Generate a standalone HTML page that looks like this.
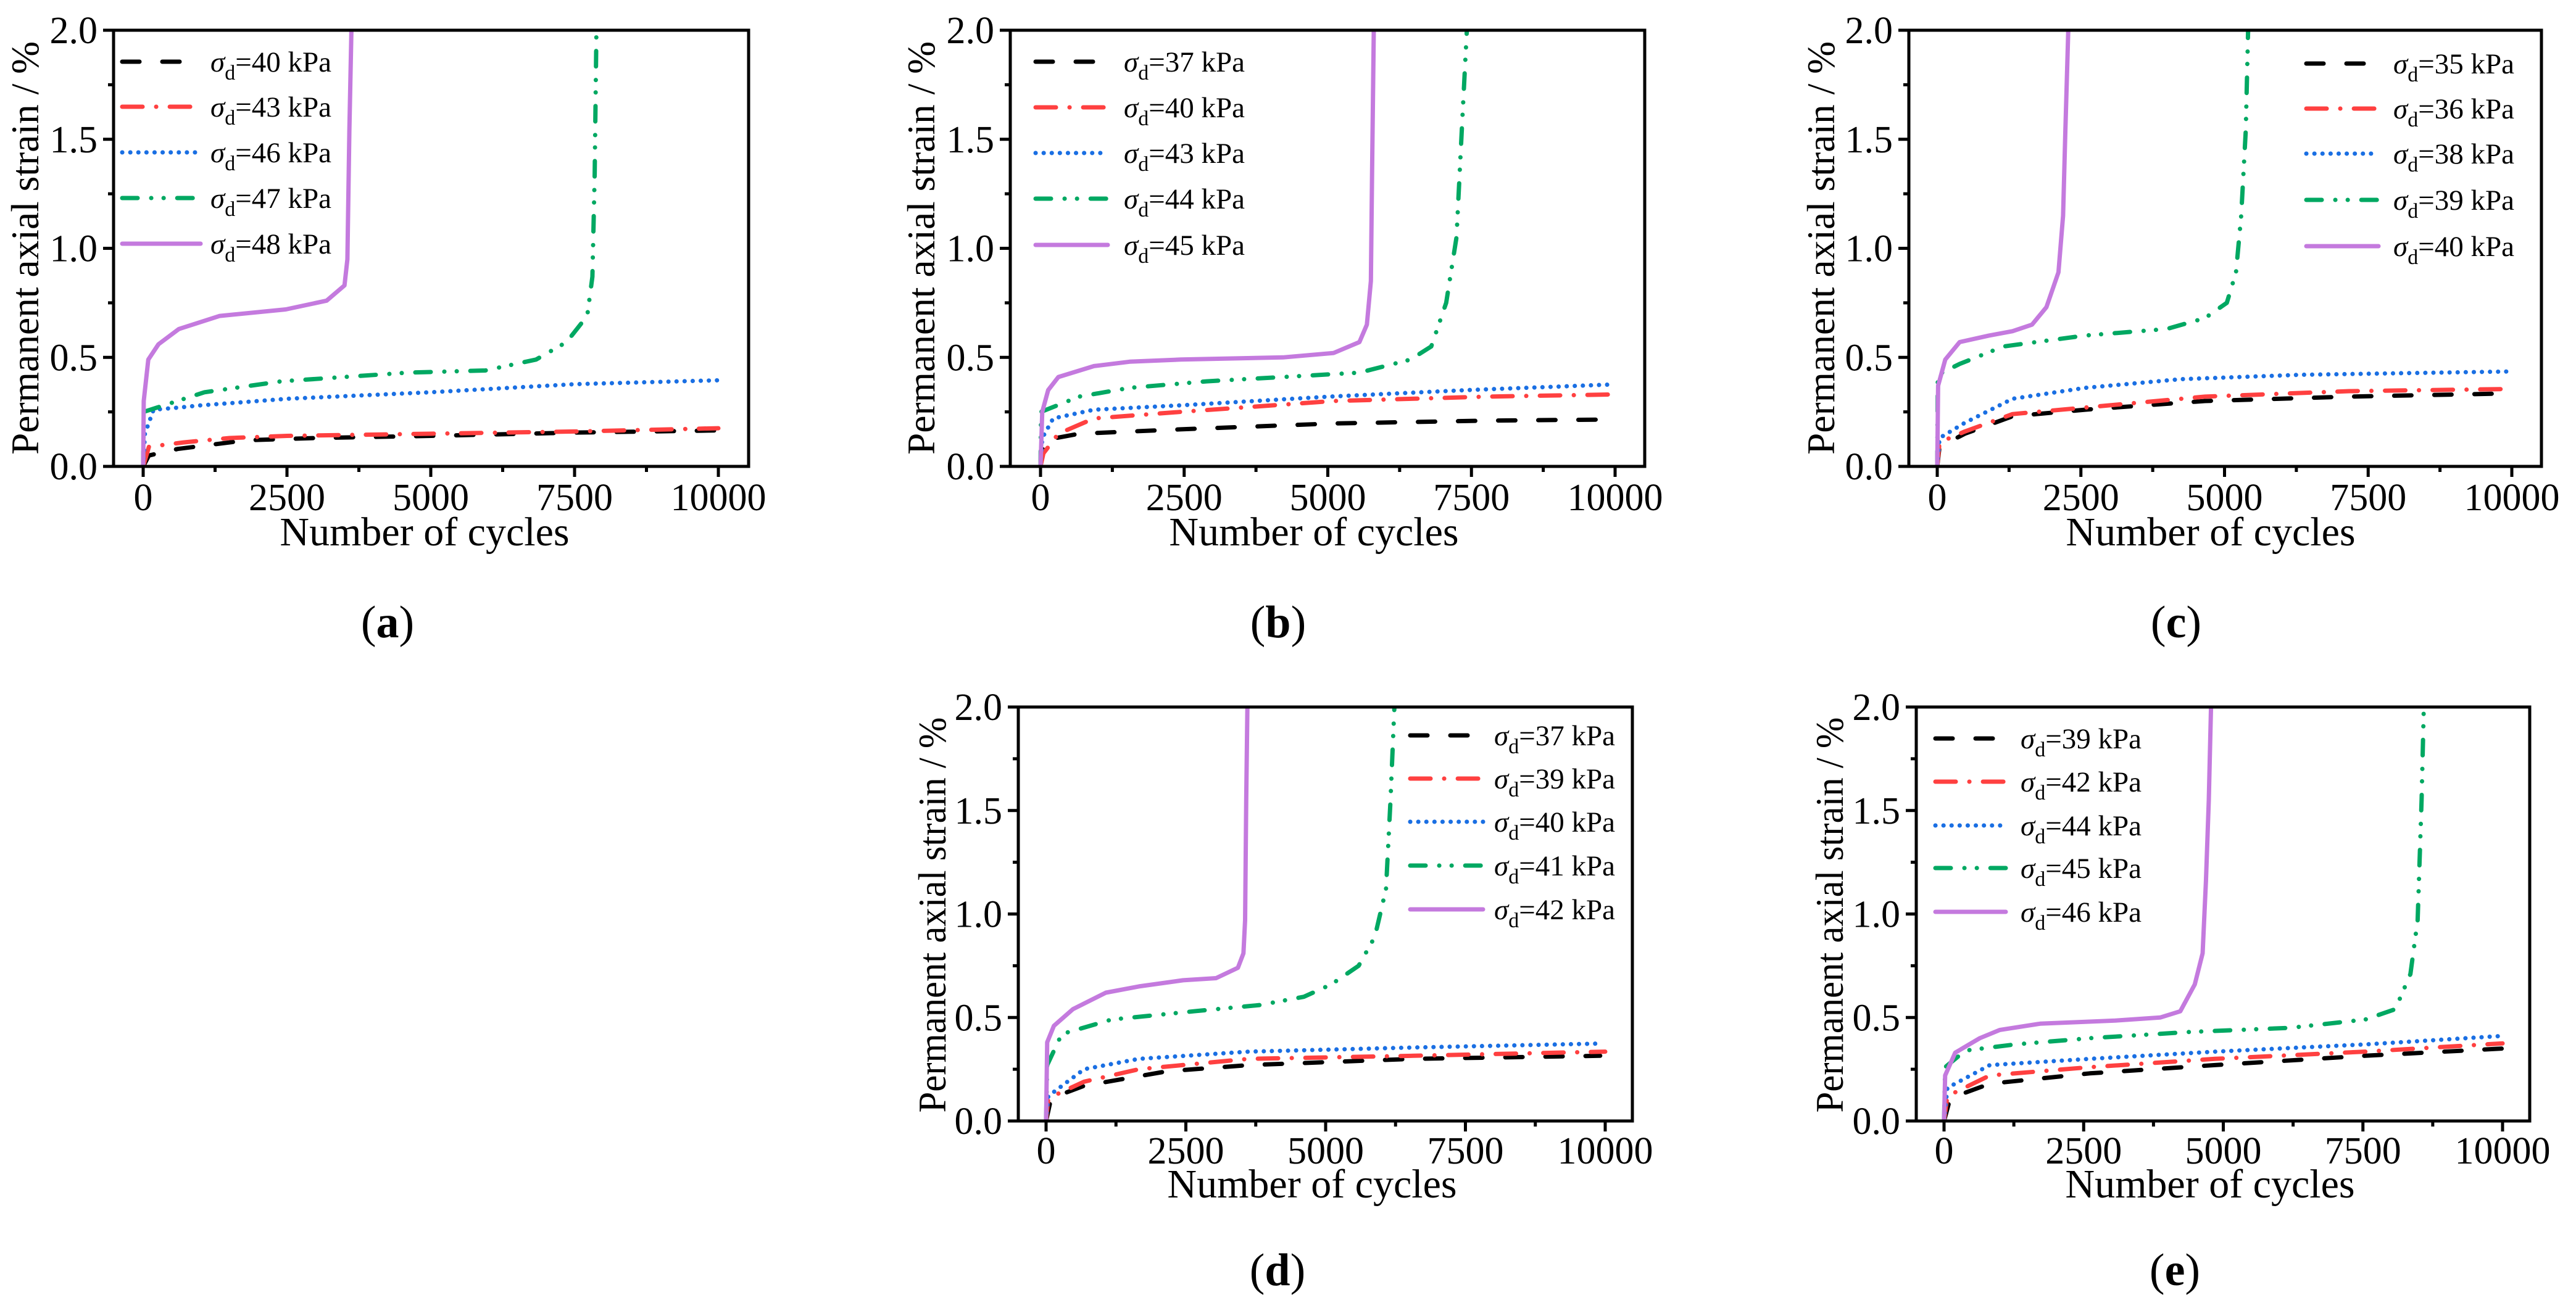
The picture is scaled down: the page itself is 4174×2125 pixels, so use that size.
<!DOCTYPE html>
<html><head><meta charset="utf-8"><style>
html,body{margin:0;padding:0;background:#fff;}
svg{display:block;}
text{font-family:"Liberation Serif",serif;fill:#000;}
</style></head><body>
<svg id="fig" xmlns="http://www.w3.org/2000/svg" width="4174" height="2125" viewBox="0 0 4174 2125">
<rect x="0" y="0" width="4174" height="2125" fill="#fff"/>
</svg>
<script>
// ---- Data: cycles (N) and permanent axial strain (%) per series ----
// Panel (a)
const a40_N = [0,100,600,1800,3000,5000,7500,10000];
const a40_E = [0,0.05,0.08,0.12,0.13,0.14,0.155,0.165];
const a43_N = [0,100,700,1500,2500,5000,7500,10000];
const a43_E = [0,0.09,0.11,0.13,0.14,0.15,0.16,0.175];
const a46_N = [0,30,180,620,1000,1510,2500,5000,7500,10000];
const a46_E = [0,0.15,0.26,0.27,0.28,0.29,0.31,0.34,0.377,0.395];
const a47_N = [0,10,1065,2400,4600,5950,6830,7360,7720,7810,7850,7880];
const a47_E = [0,0.25,0.34,0.39,0.43,0.44,0.49,0.57,0.69,0.87,1.34,2.0];
const a48_N = [0,10,89,266,620,1330,2480,3190,3500,3550,3585,3620];
const a48_E = [0,0.3,0.49,0.56,0.63,0.69,0.72,0.76,0.83,0.95,1.54,2.0];
// Panel (b)
const b37_N = [0,60,670,2440,5100,7770,9900];
const b37_E = [0,0.12,0.15,0.17,0.197,0.21,0.215];
const b40_N = [0,50,310,930,2440,5100,7770,10000];
const b40_E = [0,0.06,0.15,0.22,0.25,0.30,0.32,0.33];
const b43_N = [0,30,220,930,2440,5020,7420,9900];
const b43_E = [0,0.13,0.22,0.26,0.28,0.32,0.35,0.375];
const b44_N = [0,10,670,1550,2890,4220,5550,6440,6800,7060,7240,7330,7420];
const b44_E = [0,0.25,0.32,0.36,0.39,0.41,0.43,0.49,0.55,0.75,1.05,1.53,2.0];
const b45_N = [0,30,133,310,930,1550,2440,4220,5100,5550,5680,5750,5770,5800];
const b45_E = [0,0.25,0.35,0.41,0.46,0.48,0.49,0.50,0.52,0.57,0.65,0.85,1.34,2.0];
// Panel (c)
const c35_N = [0,40,480,1310,2570,4660,7170,10000];
const c35_E = [0,0.09,0.15,0.23,0.26,0.30,0.32,0.335];
const c36_N = [0,40,480,1310,2570,4660,7170,10000];
const c36_E = [0,0.11,0.16,0.24,0.27,0.32,0.345,0.355];
const c38_N = [0,40,480,1310,2570,4240,6330,9930];
const c38_E = [0,0.13,0.20,0.31,0.36,0.40,0.42,0.435];
const c39_N = [0,10,390,1150,2570,3990,4660,5040,5200,5290,5370,5410];
const c39_E = [0,0.42,0.47,0.55,0.60,0.63,0.68,0.75,0.89,1.15,1.54,2.0];
const c40_N = [0,15,140,390,900,1310,1650,1900,2110,2190,2230,2280];
const c40_E = [0,0.37,0.49,0.57,0.60,0.62,0.65,0.73,0.89,1.15,1.54,2.0];
// Panel (d)
const d37_N = [0,90,680,2160,3620,6570,9910];
const d37_E = [0,0.11,0.17,0.24,0.27,0.30,0.315];
const d39_N = [0,40,680,1660,3620,6570,10000];
const d39_E = [0,0.11,0.19,0.25,0.30,0.315,0.335];
const d40_N = [0,40,680,1660,3620,6570,9910];
const d40_E = [0,0.12,0.25,0.30,0.335,0.355,0.374];
const d41_N = [0,20,280,1170,2640,3820,4610,5100,5590,5880,6080,6160,6230];
const d41_E = [0,0.27,0.42,0.49,0.53,0.56,0.60,0.66,0.75,0.89,1.12,1.55,2.0];
const d42_N = [0,20,140,480,1070,1660,2450,3040,3430,3530,3560,3580,3600];
const d42_E = [0,0.38,0.46,0.54,0.62,0.65,0.68,0.69,0.74,0.81,0.97,1.55,2.0];
// Panel (e)
const e39_N = [0,110,820,2610,4850,7540,10000];
const e39_E = [0,0.11,0.18,0.23,0.27,0.315,0.35];
const e42_N = [0,60,820,2610,4850,7540,10000];
const e42_E = [0,0.12,0.22,0.26,0.30,0.335,0.375];
const e44_N = [0,60,820,2610,4850,7540,9950];
const e44_E = [0,0.16,0.27,0.30,0.335,0.37,0.41];
const e45_N = [0,20,380,1270,2610,4400,6200,7540,8080,8350,8480,8550,8590];
const e45_E = [0,0.26,0.34,0.37,0.40,0.43,0.45,0.49,0.54,0.71,0.97,1.55,2.0];
const e46_N = [0,20,200,640,1000,1720,3060,3870,4230,4490,4630,4690,4740,4780];
const e46_E = [0,0.22,0.33,0.40,0.44,0.47,0.485,0.50,0.53,0.66,0.81,1.16,1.55,2.0];

const xTicks = [0,2500,5000,7500,10000];
const xTickLabels = ["0","2500","5000","7500","10000"];
const yTicks = [0,0.5,1.0,1.5,2.0];
const yTickLabels = ["0.0","0.5","1.0","1.5","2.0"];

const STY = [
  {color:"#000000", dash:"28 37"},
  {color:"#ff4040", dash:"33 22 0.1 22"},
  {color:"#1a6fe3", dash:"0.1 13"},
  {color:"#00a862", dash:"25 22 0.1 20 0.1 22"},
  {color:"#c47ade", dash:""}
];

const panels = [
  {id:"a", L:184, R:1213, T:49, B:756, x0:232, x1:1164, legX:195, legW:133, legT:341, legRows:[100,173,247,321,395],
   titleX:41, titleY:402, titleLen:670, xtX:688, tickBase:827, xtBase:884, labX:628, labY:1033,
   series:[[a40_N,a40_E,"40"],[a43_N,a43_E,"43"],[a46_N,a46_E,"46"],[a47_N,a47_E,"47"],[a48_N,a48_E,"48"]]},
  {id:"b", L:1637, R:2665, T:49, B:756, x0:1686, x1:2617, legX:1675, legW:123, legT:1821, legRows:[100,174,248,322,397],
   titleX:1493, titleY:402, titleLen:670, xtX:2129, tickBase:827, xtBase:884, labX:2071, labY:1033,
   series:[[b37_N,b37_E,"37"],[b40_N,b40_E,"40"],[b43_N,b43_E,"43"],[b44_N,b44_E,"44"],[b45_N,b45_E,"45"]]},
  {id:"c", L:3093, R:4118, T:49, B:756, x0:3139, x1:4070, legX:3734, legW:123, legT:3878, legRows:[103,176,249,324,399],
   titleX:2951, titleY:402, titleLen:670, xtX:3582, tickBase:827, xtBase:884, labX:3526, labY:1033,
   series:[[c35_N,c35_E,"35"],[c36_N,c36_E,"36"],[c38_N,c38_E,"38"],[c39_N,c39_E,"39"],[c40_N,c40_E,"40"]]},
  {id:"d", L:1650, R:2645, T:1146, B:1817, x0:1695, x1:2601, legX:2282, legW:124, legT:2421, legRows:[1192,1262,1332,1403,1474],
   titleX:1511, titleY:1483, titleLen:641, xtX:2126, tickBase:1886, xtBase:1941, labX:2070, labY:2083,
   series:[[d37_N,d37_E,"37"],[d39_N,d39_E,"39"],[d40_N,d40_E,"40"],[d41_N,d41_E,"41"],[d42_N,d42_E,"42"]]},
  {id:"e", L:3105, R:4099, T:1146, B:1817, x0:3150, x1:4055, legX:3133, legW:120, legT:3274, legRows:[1197,1267,1338,1407,1478],
   titleX:2965, titleY:1483, titleLen:641, xtX:3581, tickBase:1886, xtBase:1941, labX:3524, labY:2083,
   series:[[e39_N,e39_E,"39"],[e42_N,e42_E,"42"],[e44_N,e44_E,"44"],[e45_N,e45_E,"45"],[e46_N,e46_E,"46"]]}
];

const NS = "http://www.w3.org/2000/svg";
const svg = document.getElementById("fig");
function mk(tag, attrs, parent){
  const el = document.createElementNS(NS, tag);
  for (const k in attrs) el.setAttribute(k, attrs[k]);
  (parent||svg).appendChild(el);
  return el;
}

panels.forEach(p => {
  const g = mk("g", {});
  
  
  const xs = n => p.x0 + (n/10000)*(p.x1-p.x0);
  const ys = v => p.B - (v/2.0)*(p.B-p.T);

  const cp = mk("clipPath", {id:"clip-"+p.id}, g);
  mk("rect", {x:p.L, y:p.T-2, width:p.R-p.L, height:p.B-p.T+2}, cp);

  p.series.forEach((s, i) => {
    const pts = s[0].map((n, k) => xs(n).toFixed(1) + "," + ys(s[1][k]).toFixed(1)).join(" ");
    const pl = mk("polyline", {points:pts, fill:"none", stroke:STY[i].color, "stroke-width":7,
      "stroke-linecap":"round", "stroke-linejoin":"round", "clip-path":"url(#clip-"+p.id+")"}, g);
    if (STY[i].dash) pl.setAttribute("stroke-dasharray", STY[i].dash);
    
    
  });

  const fr = mk("rect", {x:p.L, y:p.T, width:p.R-p.L, height:p.B-p.T, fill:"none", stroke:"#000", "stroke-width":5}, g);
  
  

  xTicks.forEach((t, i) => {
    const x = xs(t);
    mk("line", {x1:x, y1:p.B, x2:x, y2:p.B+17, stroke:"#000", "stroke-width":5}, g);
    const tl = mk("text", {x:x, y:p.tickBase, "font-size":62, "text-anchor":"middle"}, g);
    tl.textContent = xTickLabels[i];
    
    
    if (i < xTicks.length-1) {
      const xm = xs(t+1250);
      mk("line", {x1:xm, y1:p.B, x2:xm, y2:p.B+9, stroke:"#000", "stroke-width":5}, g);
    }
  });
  yTicks.forEach((t, i) => {
    const y = ys(t);
    mk("line", {x1:p.L-17, y1:y, x2:p.L, y2:y, stroke:"#000", "stroke-width":5}, g);
    const tl = mk("text", {x:p.L-26, y:y+21, "font-size":62, "text-anchor":"end"}, g);
    tl.textContent = yTickLabels[i];
    
    
    if (i < yTicks.length-1) {
      const ym = ys(t+0.25);
      mk("line", {x1:p.L-9, y1:ym, x2:p.L, y2:ym, stroke:"#000", "stroke-width":5}, g);
    }
  });

  const xt = mk("text", {x:p.xtX, y:p.xtBase, "font-size":66, "text-anchor":"middle"}, g);
  xt.textContent = "Number of cycles";
  
  
  const yt = mk("text", {x:0, y:0, "font-size":64, "text-anchor":"middle", textLength:p.titleLen, lengthAdjust:"spacingAndGlyphs",
    transform:"translate(" + (p.titleX+21) + "," + p.titleY + ") rotate(-90)"}, g);
  yt.textContent = "Permanent axial strain / %";
  
  

  p.series.forEach((s, i) => {
    const y = p.legRows[i];
    const eg = mk("g", {}, g);
    
    
    const ln = mk("line", {x1:p.legX+3, y1:y, x2:p.legX+p.legW-3, y2:y, stroke:STY[i].color, "stroke-width":7, "stroke-linecap":"round"}, eg);
    if (STY[i].dash) ln.setAttribute("stroke-dasharray", STY[i].dash);
    const tx = mk("text", {x:p.legT, y:y+16, "font-size":47}, eg);
    const t1 = mk("tspan", {"font-style":"italic"}, tx); t1.textContent = "σ";
    const t2 = mk("tspan", {"font-size":34, dy:13}, tx); t2.textContent = "d";
    const t3 = mk("tspan", {dy:-13}, tx); t3.textContent = "=" + s[2] + " kPa";
  });

  const lb = mk("text", {x:p.labX, y:p.labY, "font-size":74, "text-anchor":"middle"}, g);
  const l1 = mk("tspan", {}, lb); l1.textContent = "(";
  const l2 = mk("tspan", {"font-weight":"bold"}, lb); l2.textContent = p.id;
  const l3 = mk("tspan", {}, lb); l3.textContent = ")";
  
  
});
</script>
</body></html>
